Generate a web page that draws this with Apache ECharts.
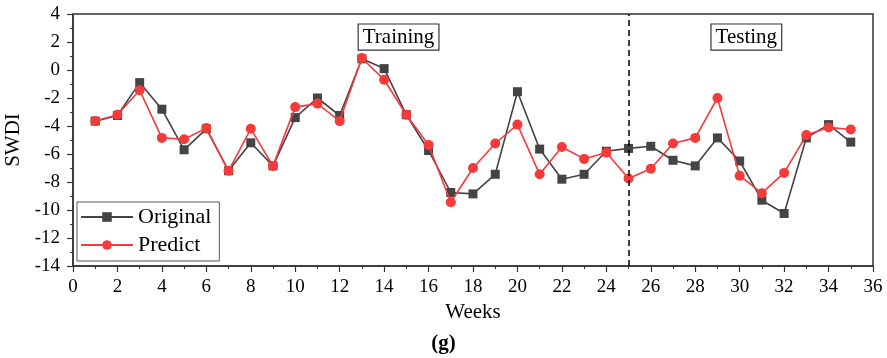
<!DOCTYPE html>
<html>
<head>
<meta charset="utf-8">
<script src="https://cdn.jsdelivr.net/npm/echarts@6/dist/echarts.min.js"></script>
<style>html,body{margin:0;padding:0;background:#fff;}#c{width:887px;height:358px;}</style>
</head>
<body>
<div id="c"></div>
<script>
const weeks = [1,2,3,4,5,6,7,8,9,10,11,12,13,14,15,16,17,18,19,20,21,22,23,24,25,26,27,28,29,30,31,32,33,34,35];
const original = [-3.65,-3.25,-0.9,-2.8,-5.7,-4.2,-7.2,-5.2,-6.85,-3.4,-2.0,-3.25,0.8,0.1,-3.2,-5.75,-8.75,-8.85,-7.45,-1.55,-5.65,-7.8,-7.45,-5.8,-5.6,-5.45,-6.45,-6.85,-4.85,-6.5,-9.3,-10.25,-4.85,-3.9,-5.15];
const predict  = [-3.65,-3.2,-1.45,-4.85,-4.95,-4.15,-7.2,-4.2,-6.85,-2.65,-2.4,-3.65,0.85,-0.7,-3.2,-5.35,-9.45,-7.0,-5.25,-3.9,-7.45,-5.5,-6.35,-5.9,-7.75,-7.05,-5.25,-4.85,-2.0,-7.55,-8.8,-7.35,-4.65,-4.1,-4.25];
const splitWeek = 25;
const annotations = [{text:'Training', x:14.65, y:2.35},{text:'Testing', x:30.3, y:2.35}];

const serif = '"Liberation Serif","Times New Roman",serif';
const chart = echarts.init(document.getElementById('c'), null, {renderer:'canvas'});
const pairs = a => weeks.map((w,i)=>[w,a[i]]);
chart.setOption({
  animation:false,
  backgroundColor:'#fff',
  title:{text:'(g)', left:'center', top:328, textStyle:{fontFamily:serif,fontSize:21,fontWeight:'bold',color:'#000'}},
  grid:{left:73,right:14,top:14,bottom:92,containLabel:false,outerBoundsMode:'none',show:true,borderColor:'#333',borderWidth:1.5,backgroundColor:'transparent'},
  legend:{
    orient:'vertical', left:77, top:202, padding:[4,8,5,3], itemGap:6,
    borderColor:'#555', borderWidth:1, backgroundColor:'#fff',
    itemWidth:52, itemHeight:12,
    textStyle:{fontFamily:serif,fontSize:22,color:'#000'},
    data:['Original','Predict']
  },
  xAxis:{
    type:'value', min:0, max:36, interval:2,
    name:'Weeks', nameLocation:'middle', nameGap:36,
    nameTextStyle:{fontFamily:serif,fontSize:21,color:'#000'},
    axisLine:{onZero:false,lineStyle:{color:'#333',width:1.5}},
    axisTick:{show:true,length:6,lineStyle:{color:'#333',width:1.2}},
    minorTick:{show:true,splitNumber:2,length:3,lineStyle:{color:'#333',width:1}},
    axisLabel:{fontFamily:serif,fontSize:19,color:'#000',margin:12},
    splitLine:{show:false}
  },
  yAxis:{
    type:'value', min:-14, max:4, interval:2,
    name:'SWDI', nameLocation:'middle', nameGap:45, nameRotate:90,
    nameTextStyle:{fontFamily:serif,fontSize:21,color:'#000'},
    axisLine:{onZero:false,lineStyle:{color:'#333',width:1.5}},
    axisTick:{show:true,length:6,lineStyle:{color:'#333',width:1.2}},
    minorTick:{show:true,splitNumber:2,length:3,lineStyle:{color:'#333',width:1}},
    axisLabel:{fontFamily:serif,fontSize:19,color:'#000',margin:13},
    splitLine:{show:false}
  },
  series:[
    {
      name:'Original', type:'line', data:pairs(original),
      symbol:'rect', symbolSize:9,
      lineStyle:{color:'#444',width:1.6}, itemStyle:{color:'#444'},
      z:2,
      markLine:{
        silent:true, symbol:['none','none'], label:{show:false},
        lineStyle:{color:'#000',type:[6,4],width:1.5},
        data:[{xAxis:splitWeek}]
      },
      markPoint:{
        symbol:'rect', symbolSize:1, itemStyle:{color:'transparent'},
        label:{
          show:true, position:'inside', fontFamily:serif, fontSize:21, color:'#000',
          backgroundColor:'#fff', borderColor:'#333', borderWidth:1.2, padding:[3,4,1,4],
          formatter:p=>p.name
        },
        data:annotations.map(a=>({name:a.text, coord:[a.x,a.y]}))
      }
    },
    {
      name:'Predict', type:'line', data:pairs(predict),
      symbol:'circle', symbolSize:10,
      lineStyle:{color:'#f53a3a',width:1.6}, itemStyle:{color:'#f53a3a'},
      z:3
    }
  ]
});
</script>
</body>
</html>
